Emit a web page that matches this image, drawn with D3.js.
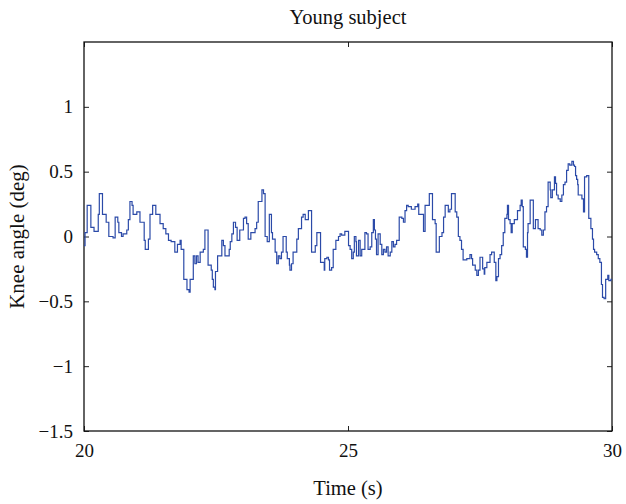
<!DOCTYPE html>
<html>
<head>
<meta charset="utf-8">
<script src="https://cdn.jsdelivr.net/npm/d3@7"></script>
<style>
  body { margin: 0; background: #fff; }
  svg text { font-family: "Liberation Serif", "DejaVu Serif", serif; fill: #111; }
</style>
</head>
<body>
<div id="chart"></div>
<script>
// Young subject, knee angle trace (deg) between 20 s and 30 s
const times = [
  20.00, 20.02, 20.06, 20.13, 20.19, 20.27, 20.29, 20.35, 20.42, 20.47,
  20.55, 20.59, 20.64, 20.66, 20.71, 20.74, 20.81, 20.84, 20.87, 20.91,
  20.93, 21.00, 21.06, 21.14, 21.16, 21.22, 21.25, 21.30, 21.36, 21.44,
  21.50, 21.55, 21.60, 21.65, 21.72, 21.77, 21.82, 21.84, 21.89, 21.95,
  21.99, 22.01, 22.07, 22.10, 22.13, 22.16, 22.20, 22.26, 22.29, 22.35,
  22.41, 22.43, 22.45, 22.48, 22.49, 22.53, 22.61, 22.64, 22.67, 22.75,
  22.77, 22.80, 22.83, 22.87, 22.90, 22.95, 23.02, 23.05, 23.08, 23.11,
  23.16, 23.24, 23.27, 23.30, 23.37, 23.40, 23.43, 23.47, 23.51, 23.55,
  23.57, 23.62, 23.65, 23.68, 23.71, 23.74, 23.77, 23.83, 23.85, 23.89,
  23.90, 23.93, 23.96, 24.03, 24.06, 24.12, 24.15, 24.19, 24.25, 24.31,
  24.38, 24.41, 24.48, 24.55, 24.56, 24.60, 24.63, 24.65, 24.69, 24.72,
  24.77, 24.82, 24.85, 24.88, 24.94, 25.01, 25.04, 25.07, 25.10, 25.12,
  25.15, 25.16, 25.20, 25.23, 25.26, 25.32, 25.35, 25.38, 25.42, 25.45,
  25.48, 25.50, 25.52, 25.54, 25.57, 25.61, 25.64, 25.67, 25.70, 25.73,
  25.76, 25.80, 25.83, 25.86, 25.89, 25.92, 25.97, 26.02, 26.05, 26.08,
  26.11, 26.14, 26.20, 26.27, 26.32, 26.34, 26.43, 26.46, 26.54, 26.60,
  26.65, 26.67, 26.73, 26.78, 26.81, 26.84, 26.90, 26.93, 26.96, 27.03,
  27.06, 27.09, 27.12, 27.15, 27.18, 27.25, 27.31, 27.34, 27.36, 27.41,
  27.44, 27.47, 27.50, 27.55, 27.58, 27.59, 27.63, 27.69, 27.72, 27.77,
  27.80, 27.82, 27.85, 27.88, 27.91, 27.94, 27.97, 28.01, 28.02, 28.04,
  28.07, 28.09, 28.11, 28.15, 28.21, 28.26, 28.28, 28.30, 28.32, 28.36,
  28.38, 28.40, 28.41, 28.45, 28.51, 28.55, 28.60, 28.64, 28.67, 28.70,
  28.73, 28.76, 28.79, 28.83, 28.84, 28.87, 28.91, 28.93, 28.95, 28.98,
  29.02, 29.05, 29.08, 29.11, 29.14, 29.17, 29.20, 29.24, 29.27, 29.29,
  29.31, 29.33, 29.35, 29.36, 29.43, 29.46, 29.48, 29.52, 29.56, 29.60,
  29.63, 29.65, 29.67, 29.71, 29.74, 29.77, 29.80, 29.82, 29.85, 29.88,
  29.92, 29.94, 29.98, 30.00
];
const kneeAngle = [
  -0.07, 0.03, 0.24, 0.07, 0.04, 0.17, 0.33, 0.17, 0.11, 0.00,
  -0.01, 0.15, 0.11, 0.03, 0.00, 0.02, 0.05, 0.13, 0.27, 0.24,
  0.17, 0.19, 0.11, -0.03, -0.10, -0.02, 0.17, 0.24, 0.17, 0.10,
  0.06, 0.02, -0.03, -0.04, -0.12, -0.06, -0.03, -0.10, -0.33, -0.41,
  -0.43, -0.33, -0.15, -0.21, -0.15, -0.20, -0.12, -0.10, 0.05, -0.22,
  -0.26, -0.33, -0.39, -0.41, -0.27, -0.15, -0.03, -0.07, -0.15, -0.10,
  -0.04, 0.02, 0.11, 0.07, -0.03, 0.05, 0.14, 0.15, 0.10, -0.02,
  0.03, 0.06, 0.11, 0.27, 0.36, 0.33, 0.00, -0.04, 0.17, 0.03,
  -0.02, -0.12, -0.21, -0.15, -0.17, -0.12, 0.00, -0.12, -0.17, -0.22,
  -0.26, -0.21, -0.12, -0.02, 0.06, 0.15, 0.17, 0.13, 0.20, -0.12,
  -0.07, 0.03, -0.20, -0.26, -0.17, -0.16, -0.18, -0.26, -0.24, -0.10,
  -0.03, 0.00, 0.02, 0.01, 0.04, -0.07, -0.10, -0.17, -0.12, 0.00,
  -0.04, -0.15, -0.03, -0.15, -0.10, 0.03, 0.02, -0.10, -0.08, 0.03,
  0.13, 0.05, -0.02, -0.14, 0.02, -0.06, -0.14, -0.10, -0.12, -0.08,
  -0.15, -0.12, -0.04, -0.08, -0.06, -0.03, 0.15, 0.14, 0.11, 0.20,
  0.24, 0.23, 0.21, 0.23, 0.25, 0.17, 0.04, 0.24, 0.33, 0.13,
  0.10, -0.12, 0.00, 0.03, 0.15, 0.24, 0.19, 0.21, 0.33, 0.19,
  0.15, 0.00, -0.03, -0.10, -0.18, -0.17, -0.14, -0.17, -0.22, -0.26,
  -0.30, -0.26, -0.16, -0.25, -0.29, -0.24, -0.20, -0.14, -0.12, -0.20,
  -0.34, -0.31, -0.17, -0.14, -0.07, 0.03, 0.14, 0.17, 0.24, 0.13,
  0.10, 0.03, 0.10, 0.13, 0.20, 0.24, 0.28, 0.23, -0.08, -0.10,
  -0.16, 0.03, 0.10, 0.28, 0.06, 0.13, 0.06, 0.05, 0.01, 0.05,
  0.19, 0.23, 0.42, 0.36, 0.30, 0.36, 0.46, 0.41, 0.32, 0.29,
  0.27, 0.32, 0.40, 0.42, 0.51, 0.56, 0.55, 0.58, 0.55, 0.54,
  0.47, 0.44, 0.40, 0.32, 0.29, 0.19, 0.46, 0.47, 0.14, 0.06,
  -0.02, -0.10, -0.12, -0.14, -0.17, -0.20, -0.37, -0.47, -0.48, -0.33,
  -0.30, -0.34, -0.33, -0.33
];
const xTicks = [20, 25, 30];
const yTicks = [-1.5, -1, -0.5, 0, 0.5, 1];
const chartTitle = "Young subject";
const xLabel = "Time (s)";
const yLabel = "Knee angle (deg)";

class traceChart {
    constructor(_config) {
        this.config = {
            parentElement: _config.parentElement,
            containerWidth: 626,
            containerHeight: 504,
            margin: { top: 42, right: 14, bottom: 73, left: 84 },
            lineColor: "#2b4aa8",
            tickSize: 5,
        };
        this.initVis();
    }

    initVis() {
        let vis = this;
        const m = vis.config.margin;
        vis.width = vis.config.containerWidth - m.left - m.right;
        vis.height = vis.config.containerHeight - m.top - m.bottom;

        vis.svg = d3.select(vis.config.parentElement)
            .append("svg")
            .attr("width", vis.config.containerWidth)
            .attr("height", vis.config.containerHeight);

        vis.chart = vis.svg.append("g")
            .attr("transform", `translate(${m.left},${m.top})`);

        vis.xScale = d3.scaleLinear().domain([20, 30]).range([0, vis.width]);
        vis.yScale = d3.scaleLinear().domain([-1.5, 1.5]).range([vis.height, 0]);

        const fmt = d => (d < 0 ? "\u2212" + Math.abs(d) : String(d));

        // bottom and left axes carry the labels, ticks point inward
        vis.chart.append("g")
            .attr("class", "axis x-axis")
            .attr("transform", `translate(0,${vis.height})`)
            .call(d3.axisBottom(vis.xScale).tickValues(xTicks)
                .tickSize(-vis.config.tickSize).tickPadding(13).tickFormat(fmt));

        vis.chart.append("g")
            .attr("class", "axis y-axis")
            .call(d3.axisLeft(vis.yScale).tickValues(yTicks)
                .tickSize(-vis.config.tickSize).tickPadding(11).tickFormat(fmt));

        // mirrored ticks on top and right
        vis.chart.append("g")
            .attr("class", "axis")
            .call(d3.axisTop(vis.xScale).tickValues(xTicks)
                .tickSize(-vis.config.tickSize).tickFormat(""));

        vis.chart.append("g")
            .attr("class", "axis")
            .attr("transform", `translate(${vis.width},0)`)
            .call(d3.axisRight(vis.yScale).tickValues(yTicks)
                .tickSize(-vis.config.tickSize).tickFormat(""));

        vis.chart.selectAll(".axis .domain").remove();
        vis.chart.selectAll(".axis line").attr("stroke", "#222");
        vis.chart.selectAll(".axis text")
            .style("font-family", '"Liberation Serif", serif')
            .style("font-size", "19px")
            .attr("fill", "#111");

        vis.chart.append("rect")
            .attr("width", vis.width)
            .attr("height", vis.height)
            .attr("fill", "none")
            .attr("stroke", "#111")
            .attr("stroke-width", 1.3);

        vis.line = d3.line()
            .x(d => vis.xScale(d[0]))
            .y(d => vis.yScale(d[1]))
            .curve(d3.curveStepAfter);

        vis.chart.append("path")
            .datum(d3.zip(times, kneeAngle))
            .attr("fill", "none")
            .attr("stroke", vis.config.lineColor)
            .attr("stroke-width", 1.2)
            .attr("d", vis.line);

        vis.svg.append("text")
            .attr("x", m.left + vis.width / 2)
            .attr("y", 24)
            .attr("text-anchor", "middle")
            .style("font-size", "20.5px")
            .text(chartTitle);

        vis.svg.append("text")
            .attr("x", m.left + vis.width / 2)
            .attr("y", 495)
            .attr("text-anchor", "middle")
            .style("font-size", "20.5px")
            .text(xLabel);

        vis.svg.append("text")
            .attr("transform", `translate(24,${m.top + vis.height / 2}) rotate(-90)`)
            .attr("text-anchor", "middle")
            .style("font-size", "21px")
            .text(yLabel);
    }
}

new traceChart({ parentElement: "#chart" });
</script>
</body>
</html>
